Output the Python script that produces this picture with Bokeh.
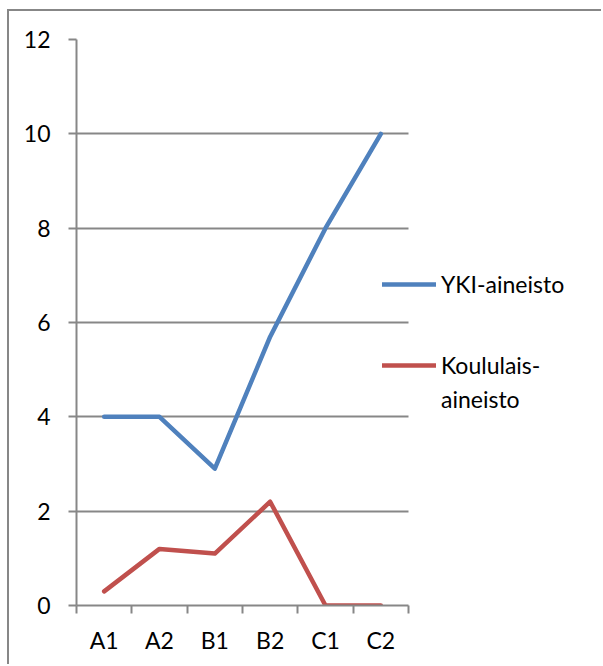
from bokeh.plotting import figure
from bokeh.models import FixedTicker, Legend, LegendItem, Range1d
from bokeh.embed import file_html
from bokeh.resources import INLINE

categories = ["A1", "A2", "B1", "B2", "C1", "C2"]
yki = [4.0, 4.0, 2.9, 5.7, 8.0, 10.0]
koulu = [0.3, 1.2, 1.1, 2.2, 0.0, 0.0]
series_names = ["YKI-aineisto", "Koululais-", "aineisto"]
y_ticks = [0, 2, 4, 6, 8, 10, 12]

FONT = "Lato"
FS = "23px"
GRID = "#878787"

n = len(categories)
xs = [i + 0.5 for i in range(n)]

# frame spans the full width so the legend is not clipped; the category
# area covers 332 px of the 527 px frame
FRAME_W = 527
CAT_W = 332
x_end = n * FRAME_W / CAT_W

p = figure(width=594, height=655, output_backend="svg", toolbar_location=None,
           x_range=Range1d(0, x_end), y_range=Range1d(0, 12),
           min_border_left=67, min_border_top=28, min_border_right=0, min_border_bottom=61)
p.margin = (9, 0, 0, 7)
p.styles = {"border-left": "2px solid #878787", "border-top": "2px solid #878787"}
p.outline_line_color = None
p.background_fill_color = "white"

r1 = p.line(xs, yki, line_color="#4F81BD", line_width=4.5, line_cap="round", line_join="round")
r2 = p.line(xs, koulu, line_color="#C0504D", line_width=4.5, line_cap="round", line_join="round")
r3 = p.line([], [], line_alpha=0)

p.xaxis.bounds = (0, n)
p.xaxis.ticker = FixedTicker(ticks=xs, minor_ticks=list(range(n + 1)))
p.xaxis.major_label_overrides = {x: c for x, c in zip(xs, categories)}
p.xaxis.major_tick_line_color = None
p.xaxis.minor_tick_line_color = GRID
p.xaxis.minor_tick_line_width = 2
p.xaxis.minor_tick_out = 8
p.xaxis.minor_tick_in = 0
p.xaxis.major_label_standoff = 12

p.yaxis.ticker = FixedTicker(ticks=y_ticks)
p.yaxis.major_tick_out = 8
p.yaxis.major_tick_in = 0
p.yaxis.major_tick_line_color = GRID
p.yaxis.major_tick_line_width = 2
p.yaxis.minor_tick_line_color = None
p.yaxis.major_label_standoff = 18

for ax in (p.xaxis, p.yaxis):
    ax.axis_line_color = GRID
    ax.axis_line_width = 2
    ax.major_label_text_font = FONT
    ax.major_label_text_font_size = FS
    ax.major_label_text_color = "#000000"

p.xgrid.grid_line_color = None
p.ygrid.grid_line_color = GRID
p.ygrid.grid_line_width = 2
p.ygrid.cross_bounds = (0, n)


def make_legend(items, loc):
    lg = Legend(items=items, location=loc)
    lg.label_text_font = FONT
    lg.label_text_font_size = FS
    lg.label_text_color = "#000000"
    lg.glyph_width = 54
    lg.glyph_height = 26
    lg.label_height = 26
    lg.label_standoff = 5
    lg.spacing = 6
    lg.border_line_color = None
    lg.background_fill_alpha = 0
    lg.padding = 0
    lg.margin = 0
    p.add_layout(lg, "center")
    return lg


make_legend([LegendItem(label=series_names[0], renderers=[r1])], (306, 307))
make_legend([LegendItem(label=series_names[1], renderers=[r2]),
             LegendItem(label=series_names[2], renderers=[r3])], (306, 192))

open("out.html", "w").write(file_html(p, INLINE))
